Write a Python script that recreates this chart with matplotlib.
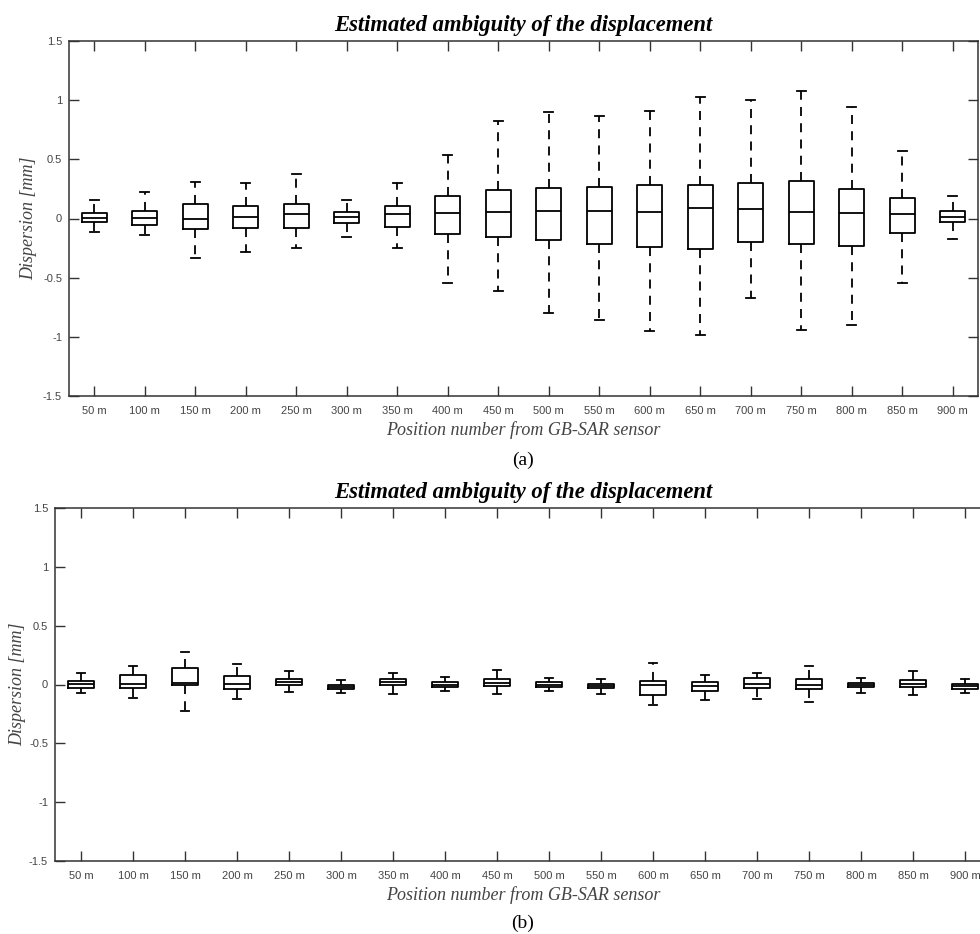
import matplotlib
matplotlib.use("Agg")
import matplotlib.pyplot as plt

# positions along the GB-SAR line of sight
positions = ["50 m", "100 m", "150 m", "200 m", "250 m", "300 m", "350 m", "400 m", "450 m",
             "500 m", "550 m", "600 m", "650 m", "700 m", "750 m", "800 m", "850 m", "900 m"]

# (a) box statistics [mm]
a_whishi = [0.16, 0.22, 0.31, 0.30, 0.38, 0.156, 0.30, 0.54, 0.82,
            0.90, 0.87, 0.91, 1.03, 1.00, 1.08, 0.94, 0.567, 0.187]
a_q3 = [0.047, 0.067, 0.126, 0.109, 0.123, 0.059, 0.106, 0.19, 0.237,
        0.257, 0.265, 0.285, 0.279, 0.299, 0.321, 0.246, 0.173, 0.064]
a_med = [0.005, 0.005, 0.0, 0.011, 0.039, 0.014, 0.034, 0.045, 0.059,
         0.067, 0.061, 0.059, 0.092, 0.078, 0.056, 0.047, 0.034, 0.014]
a_q1 = [-0.03, -0.053, -0.092, -0.084, -0.078, -0.034, -0.07, -0.128, -0.159,
        -0.182, -0.212, -0.237, -0.254, -0.198, -0.215, -0.229, -0.123, -0.031]
a_whislo = [-0.115, -0.142, -0.332, -0.28, -0.246, -0.159, -0.246, -0.547, -0.615,
            -0.796, -0.86, -0.953, -0.986, -0.67, -0.94, -0.897, -0.547, -0.17]

# (b) box statistics [mm]
b_whishi = [0.099, 0.156, 0.272, 0.173, 0.113, 0.042, 0.096, 0.065, 0.119,
            0.054, 0.045, 0.181, 0.079, 0.099, 0.156, 0.057, 0.116, 0.048]
b_q3 = [0.028, 0.082, 0.142, 0.071, 0.048, 0.0, 0.045, 0.02, 0.045,
        0.02, 0.008, 0.028, 0.017, 0.059, 0.045, 0.014, 0.034, 0.006]
b_med = [0.006, 0.006, 0.014, 0.006, 0.017, -0.017, 0.02, 0.0, 0.014,
         0.0, -0.011, -0.003, -0.011, 0.006, 0.0, -0.003, 0.008, -0.014]
b_q1 = [-0.028, -0.031, -0.008, -0.042, -0.003, -0.037, -0.008, -0.023, -0.011,
        -0.023, -0.031, -0.088, -0.051, -0.028, -0.04, -0.025, -0.017, -0.037]
b_whislo = [-0.071, -0.116, -0.221, -0.125, -0.065, -0.074, -0.079, -0.059, -0.082,
            -0.057, -0.079, -0.17, -0.133, -0.127, -0.15, -0.068, -0.093, -0.074]

yticks = [-1.5, -1, -0.5, 0, 0.5, 1, 1.5]
yticklabels = ["-1.5", "-1", "-0.5", "0", "0.5", "1", "1.5"]

TITLE = "Estimated ambiguity of the displacement"
XLABEL = "Position number from GB-SAR sensor"
YLABEL = "Dispersion [mm]"

serif = ["Liberation Serif", "DejaVu Serif"]
sans = ["Liberation Sans", "DejaVu Sans"]


def make_stats(lo, q1, med, q3, hi):
    stats = []
    for i in range(len(med)):
        stats.append({"whislo": lo[i], "q1": q1[i], "med": med[i],
                      "q3": q3[i], "whishi": hi[i], "fliers": []})
    return stats


def draw_panel(ax, stats, ylabelpad):
    ax.bxp(stats, positions=range(1, len(stats) + 1), widths=0.5, capwidths=0.17,
           showfliers=False, patch_artist=False,
           boxprops=dict(color="black", linewidth=1.3),
           medianprops=dict(color="black", linewidth=1.3),
           whiskerprops=dict(color="black", linewidth=1.3, linestyle=(0, (5, 4))),
           capprops=dict(color="black", linewidth=1.3))
    ax.set_xlim(0.5, len(stats) + 0.5)
    ax.set_ylim(-1.5, 1.5)
    ax.set_xticks(range(1, len(stats) + 1))
    ax.set_xticklabels(positions, fontfamily=sans, fontsize=8, color="#444444")
    ax.set_yticks(yticks)
    ax.set_yticklabels(yticklabels, fontfamily=sans, fontsize=8, color="#444444")
    ax.tick_params(direction="in", length=7, width=1, color="#333333",
                   top=True, right=True)
    ax.tick_params(axis="x", pad=7)
    ax.tick_params(axis="y", pad=5)
    for s in ax.spines.values():
        s.set_color("#333333")
        s.set_linewidth(1.1)
    ax.set_title(TITLE, fontfamily=serif, fontsize=16.3, fontweight="bold",
                 fontstyle="italic", pad=7)
    ax.set_xlabel(XLABEL, fontfamily=serif, fontsize=13, fontstyle="italic",
                  color="#444444", labelpad=4)
    ax.set_ylabel(YLABEL, fontfamily=serif, fontsize=13, fontstyle="italic",
                  color="#444444", labelpad=ylabelpad)


fig = plt.figure(figsize=(9.8, 9.34), dpi=100)

ax1 = fig.add_axes([69 / 980, 1 - 396 / 934, 909 / 980, 355 / 934])
draw_panel(ax1, make_stats(a_whislo, a_q1, a_med, a_q3, a_whishi), 4)

# bottom panel runs past the right edge of the picture
ax2 = fig.add_axes([55 / 980, 1 - 861 / 934, 936 / 980, 353 / 934])
draw_panel(ax2, make_stats(b_whislo, b_q1, b_med, b_q3, b_whishi), 2)

fig.text(523 / 980, 1 - 460 / 934, "(a)", fontfamily=serif, fontsize=14,
         ha="center", va="center")
fig.text(523 / 980, 1 - 923 / 934, "(b)", fontfamily=serif, fontsize=14,
         ha="center", va="center")

plt.savefig("out.png", dpi=100)
